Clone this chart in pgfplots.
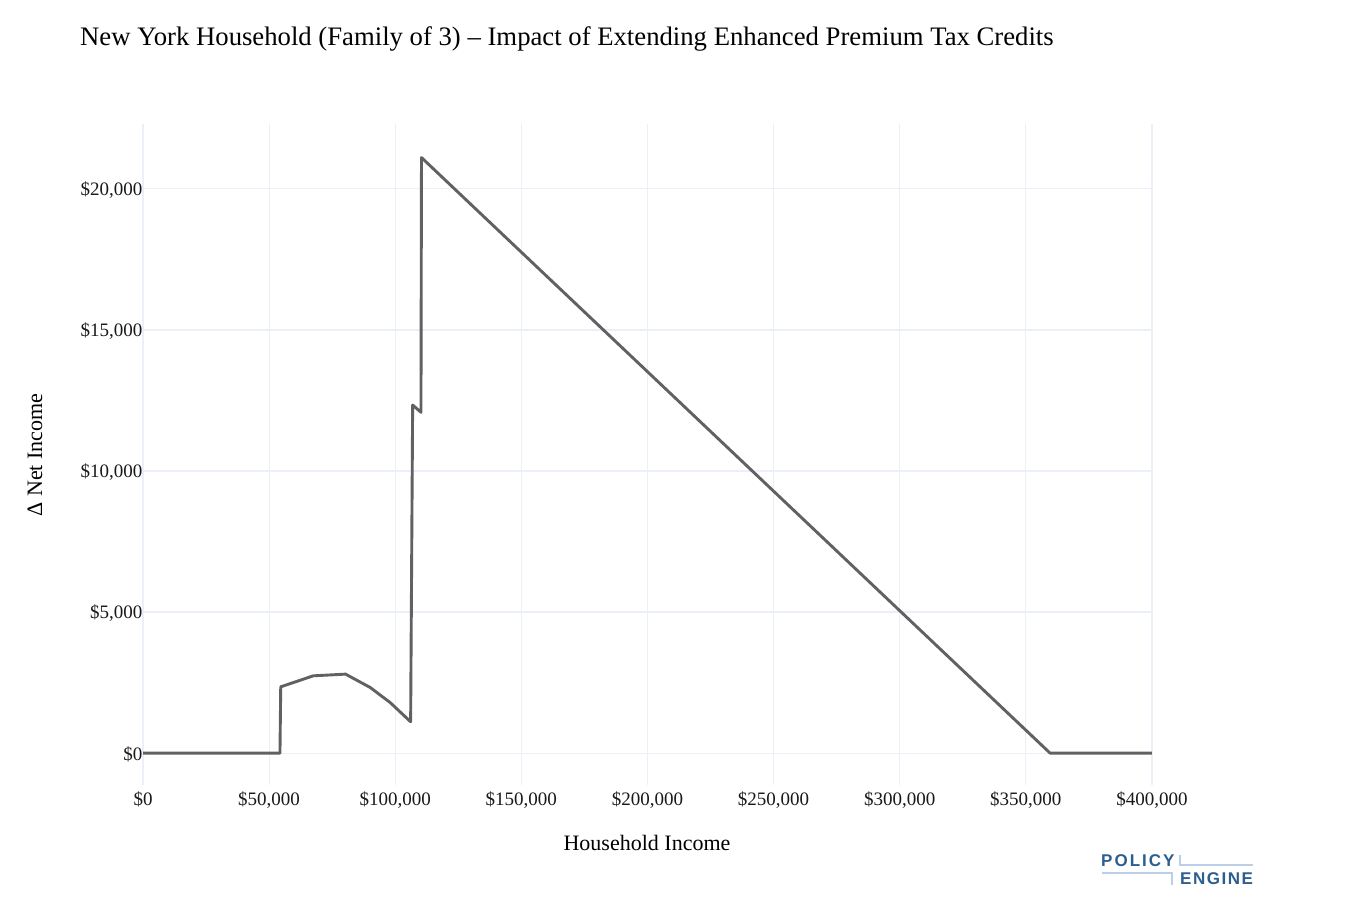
\documentclass[border=0pt]{standalone}
\usepackage{pgfplots}
\pgfplotsset{compat=1.18}
\usepackage{fontspec}
\setmainfont{Liberation Serif}
\newfontfamily\logofont{Liberation Sans}
\definecolor{gridc}{RGB}{235,240,248}
\definecolor{linec}{RGB}{97,97,97}
\definecolor{logob}{RGB}{44,95,142}
\definecolor{logol}{RGB}{187,208,230}
\begin{document}
\begin{tikzpicture}
\path[use as bounding box] (0pt,0pt) rectangle (1350pt,898pt);
\begin{axis}[
  at={(143pt,113pt)}, anchor=south west,
  width=1009pt, height=661pt, scale only axis,
  xmin=0, xmax=400000, ymin=-1130, ymax=22300,
  xtick={0,50000,100000,150000,200000,250000,300000,350000,400000},
  xticklabels={{\$0},{\$50,000},{\$100,000},{\$150,000},{\$200,000},{\$250,000},{\$300,000},{\$350,000},{\$400,000}},
  ytick={0,5000,10000,15000,20000},
  yticklabels={{\$0},{\$5,000},{\$10,000},{\$15,000},{\$20,000}},
  scaled ticks=false,
  grid=major, major grid style={gridc, line width=1.2pt},
  axis line style={draw=none}, tick style={draw=none},
  ticklabel style={font=\fontsize{19}{22}\selectfont, text=black!90},
  xticklabel style={yshift=-3pt},
  yticklabel style={xshift=3pt, yshift=-1.5pt},
  clip=false,
]
\addplot[linec, line width=2.9pt, line join=round] coordinates {
(0,0) (54300,0) (54600,2350) (67500,2740) (80300,2800) (90000,2330)
(97900,1800) (106100,1110) (106900,12340) (110200,12080) (110400,21110)
(359600,0) (400000,0)
};
\end{axis}
\node[anchor=west, inner sep=0pt, font=\fontsize{26.7}{30}\selectfont] at (80pt,859pt) {New York Household (Family of 3) – Impact of Extending Enhanced Premium Tax Credits};
\node[font=\fontsize{22}{26}\selectfont] at (647pt,55pt) {Household Income};
\node[rotate=90, font=\fontsize{22}{26}\selectfont] at (35pt,443pt) {Δ Net Income};
% logo
\draw[logol, line width=2pt] (1102pt,25pt) -- (1172pt,25pt) -- (1172pt,13pt);
\draw[logol, line width=2pt] (1180pt,43pt) -- (1180pt,33pt) -- (1253pt,33pt);
\node[anchor=west, inner sep=0pt, text=logob, font=\logofont\bfseries\fontsize{17}{20}\selectfont] at (1101pt,37pt) {P\kern2pt O\kern2pt L\kern2pt I\kern2pt C\kern2pt Y};
\node[anchor=west, inner sep=0pt, text=logob, font=\logofont\bfseries\fontsize{17}{20}\selectfont] at (1180pt,19pt) {E\kern1.5pt N\kern1.5pt G\kern1.5pt I\kern1.5pt N\kern1.5pt E};
\end{tikzpicture}
\end{document}
